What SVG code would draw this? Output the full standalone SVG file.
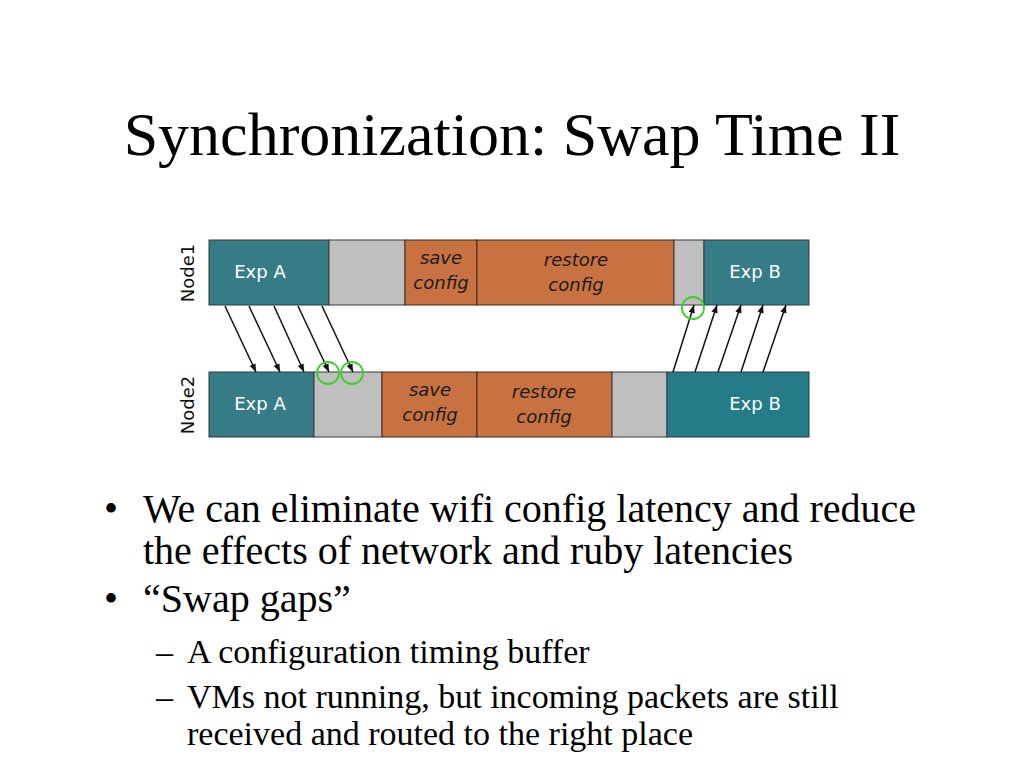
<svg xmlns="http://www.w3.org/2000/svg" width="1024" height="768" viewBox="0 0 1024 768">
<defs>
<marker id="ah" viewBox="0 0 10 10" refX="10" refY="5" markerWidth="9" markerHeight="8" orient="auto" markerUnits="userSpaceOnUse"><path d="M0,1 L10,5 L0,9 z" fill="#111"/></marker>
<style>
.exp{fill:#367c86;stroke:#2e3b3e;stroke-width:1}
.expb{fill:#257c88;stroke:#2e3b3e;stroke-width:1}
.gap{fill:#bfbfbf;stroke:#3a3a3a;stroke-width:1}
.cfg{fill:#c87242;stroke:#3a2a20;stroke-width:1}
.wt{font-family:"DejaVu Sans",sans-serif;font-size:18px;fill:#ffffff;text-anchor:middle}
.it{font-family:"DejaVu Sans",sans-serif;font-size:18px;font-style:italic;fill:#1a1a1a;text-anchor:middle}
.lbl{font-family:"DejaVu Sans",sans-serif;font-size:18px;fill:#111;text-anchor:middle}
.ar{stroke:#111;stroke-width:1.5;fill:none;marker-end:url(#ah)}
.gc{stroke:#3ccf2a;stroke-width:1.8;fill:none}
.tm{font-family:"Liberation Serif","Times New Roman",serif;fill:#000}
</style>
</defs>
<rect width="1024" height="768" fill="#fff"/>
<text class="tm" x="512" y="155" font-size="62" text-anchor="middle">Synchronization: Swap Time II</text>

<g id="node1">
<text class="lbl" transform="translate(194,273) rotate(-90)">Node1</text>
<rect class="exp" x="209" y="240" width="120" height="65"/>
<rect class="gap" x="329" y="240" width="76" height="65"/>
<rect class="cfg" x="405" y="240" width="72" height="65"/>
<rect class="cfg" x="477" y="240" width="197" height="65"/>
<rect class="gap" x="674" y="240" width="30" height="65"/>
<rect class="exp" x="704" y="240" width="105" height="65"/>
<text class="wt" x="260" y="278">Exp A</text>
<text class="it" x="441" y="264">save</text>
<text class="it" x="441" y="289">config</text>
<text class="it" x="576" y="266">restore</text>
<text class="it" x="576" y="291">config</text>
<text class="wt" x="755" y="278">Exp B</text>
</g>

<g id="node2">
<text class="lbl" transform="translate(194,405) rotate(-90)">Node2</text>
<rect class="exp" x="209" y="372" width="105" height="65"/>
<rect class="gap" x="314" y="372" width="68" height="65"/>
<rect class="cfg" x="382" y="372" width="95" height="65"/>
<rect class="cfg" x="477" y="372" width="135" height="65"/>
<rect class="gap" x="612" y="372" width="55" height="65"/>
<rect class="expb" x="667" y="372" width="142" height="65"/>
<text class="wt" x="260" y="410">Exp A</text>
<text class="it" x="430" y="396">save</text>
<text class="it" x="430" y="421">config</text>
<text class="it" x="544" y="398">restore</text>
<text class="it" x="544" y="423">config</text>
<text class="wt" x="755" y="410">Exp B</text>
</g>

<g id="connectors">
<line class="ar" x1="225" y1="306" x2="256" y2="372"/>
<line class="ar" x1="249" y1="306" x2="280" y2="372"/>
<line class="ar" x1="274" y1="306" x2="304" y2="372"/>
<line class="ar" x1="298" y1="306" x2="329" y2="372"/>
<line class="ar" x1="322" y1="306" x2="353" y2="372"/>
<line class="ar" x1="673" y1="372" x2="694" y2="305"/>
<line class="ar" x1="695" y1="372" x2="717" y2="305"/>
<line class="ar" x1="718" y1="372" x2="741" y2="305"/>
<line class="ar" x1="741" y1="372" x2="763" y2="305"/>
<line class="ar" x1="763" y1="372" x2="786" y2="305"/>
</g>

<g id="highlights">
<circle class="gc" cx="328" cy="373" r="11"/>
<circle class="gc" cx="352" cy="373" r="11"/>
<circle class="gc" cx="693" cy="308" r="11"/>
</g>

<g id="bullets" class="tm">
<text x="104" y="522" font-size="40">•</text>
<text x="143" y="522" font-size="40">We can eliminate wifi config latency and reduce</text>
<text x="143" y="564" font-size="40">the effects of network and ruby latencies</text>
<text x="104" y="612" font-size="40">•</text>
<text x="143" y="612" font-size="40">“Swap gaps”</text>
<text x="156" y="663" font-size="34">–</text>
<text x="187" y="663" font-size="34">A configuration timing buffer</text>
<text x="156" y="708" font-size="34">–</text>
<text x="187" y="708" font-size="34">VMs not running, but incoming packets are still</text>
<text x="187" y="745" font-size="34">received and routed to the right place</text>
</g>
</svg>
